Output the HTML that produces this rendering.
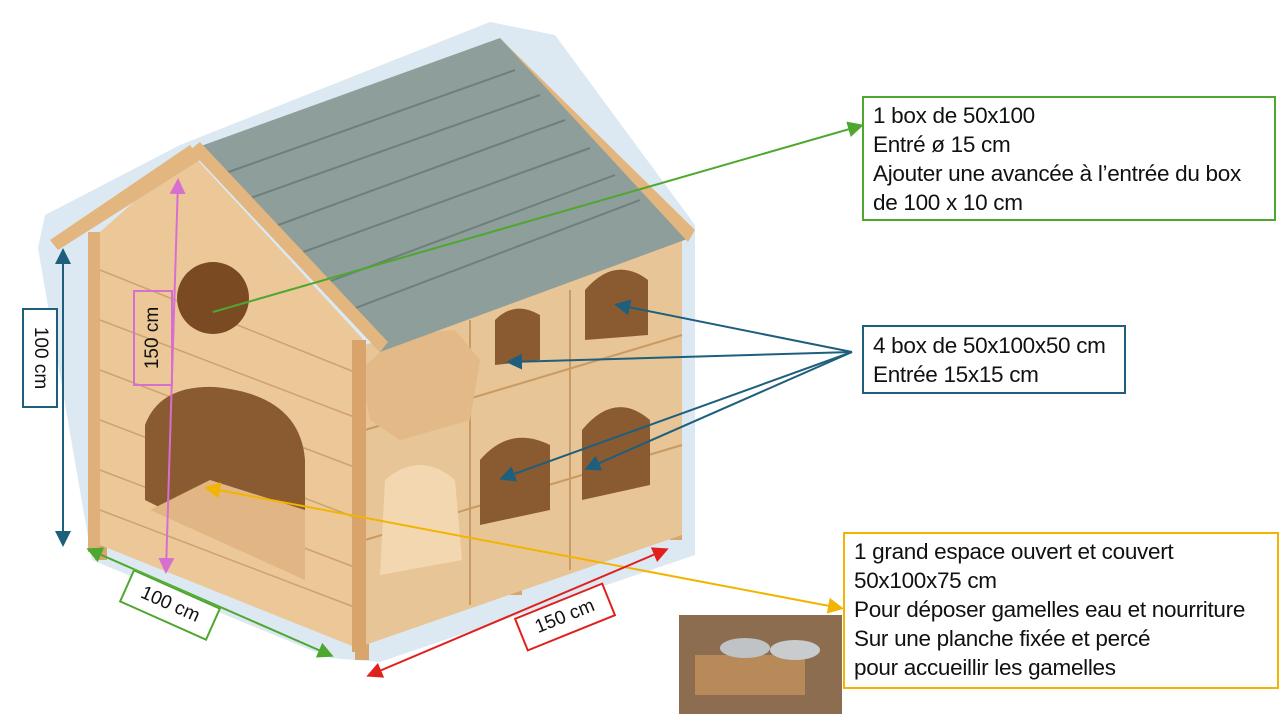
<!DOCTYPE html>
<html><head><meta charset="utf-8"><style>
body{margin:0;width:1280px;height:720px;background:#fff;position:relative;overflow:hidden;font-family:"Liberation Sans",sans-serif;}
.box{position:absolute;background:#fff;font-size:22.5px;line-height:29px;color:#111;padding:0 9px;box-sizing:border-box;white-space:nowrap;letter-spacing:-0.3px}
.lab{position:absolute;background:#fff;font-size:19px;color:#111;text-align:center;box-sizing:border-box;}
</style></head><body>
<svg width="1280" height="720" style="position:absolute;left:0;top:0">
<defs>
<marker id="ag" markerWidth="8" markerHeight="8" refX="6" refY="4" orient="auto-start-reverse"><path d="M0,0L8,4L0,8z" fill="#4ea72e"/></marker>
<marker id="ab" markerWidth="8" markerHeight="8" refX="6" refY="4" orient="auto-start-reverse"><path d="M0,0L8,4L0,8z" fill="#1e5f7d"/></marker>
<marker id="ay" markerWidth="8" markerHeight="8" refX="6" refY="4" orient="auto-start-reverse"><path d="M0,0L8,4L0,8z" fill="#f2b400"/></marker>
<marker id="ar" markerWidth="8" markerHeight="8" refX="6" refY="4" orient="auto-start-reverse"><path d="M0,0L8,4L0,8z" fill="#e0201c"/></marker>
<marker id="ap" markerWidth="8" markerHeight="8" refX="6" refY="4" orient="auto-start-reverse"><path d="M0,0L8,4L0,8z" fill="#d76fd0"/></marker>
</defs>
<polygon points="45,215 180,145 490,22 555,35 695,225 695,555 380,662 330,658 92,560 38,248" fill="#dce9f2"/>
<rect x="95" y="520" width="12" height="40" fill="#d8a56e"/>
<rect x="355" y="600" width="14" height="60" fill="#d8a56e"/>
<rect x="510" y="560" width="12" height="35" fill="#d8a56e"/>
<rect x="670" y="500" width="12" height="40" fill="#d8a56e"/>
<polygon points="365,345 682,238 682,535 365,645" fill="#e8c596"/>
<g stroke="#c99a64" stroke-width="2">
<line x1="365" y1="430" x2="682" y2="335"/><line x1="365" y1="540" x2="682" y2="445"/>
<line x1="470" y1="320" x2="470" y2="605"/><line x1="570" y1="290" x2="570" y2="570"/>
</g>
<path d="M495,365 L495,320 Q515,300 540,315 L540,360 Z" fill="#8a5a30"/>
<path d="M585,340 L585,290 Q615,255 648,280 L648,335 Z" fill="#8a5a30"/>
<path d="M480,525 L480,460 Q510,425 550,445 L550,510 Z" fill="#8a5a30"/>
<path d="M582,500 L582,430 Q615,390 650,420 L650,485 Z" fill="#8a5a30"/>
<path d="M380,575 L385,480 Q420,450 455,480 L462,560 Z" fill="#f3d7b0"/>
<polygon points="360,370 400,335 455,330 480,360 470,420 400,440 370,420" fill="#e2b987"/>
<polygon points="100,232 190,152 362,338 362,650 100,545" fill="#ecc899"/>
<g stroke="#cfa26b" stroke-width="1.5">
<line x1="100" y1="270" x2="362" y2="375"/><line x1="100" y1="320" x2="362" y2="420"/>
<line x1="100" y1="370" x2="362" y2="470"/><line x1="100" y1="420" x2="362" y2="520"/>
<line x1="100" y1="470" x2="362" y2="570"/><line x1="100" y1="510" x2="362" y2="610"/>
</g>
<rect x="88" y="232" width="12" height="320" fill="#e0b07a"/>
<rect x="352" y="340" width="14" height="312" fill="#d9a46c"/>
<circle cx="213" cy="298" r="36" fill="#7a4b22"/>
<path d="M145,500 L145,425 Q160,385 215,387 Q300,395 305,460 L305,580 Z" fill="#8a5a30"/>
<polygon points="150,510 210,480 305,510 305,580" fill="#e1b684"/>
<polygon points="190,150 500,38 690,238 380,352" fill="#8e9e9a"/>
<g stroke="#6f7f7b" stroke-width="2">
<line x1="220" y1="175" x2="515" y2="70"/><line x1="245" y1="200" x2="540" y2="95"/>
<line x1="270" y1="228" x2="565" y2="120"/><line x1="295" y1="255" x2="590" y2="148"/>
<line x1="320" y1="285" x2="615" y2="175"/><line x1="345" y1="312" x2="640" y2="200"/>
</g>
<polygon points="500,38 510,48 695,230 688,242" fill="#e3b680"/>
<polygon points="190,150 380,352 388,342 200,142" fill="#e3b680"/>
<polygon points="50,240 190,145 200,160 58,250" fill="#e3b680"/>
<rect x="679" y="615" width="163" height="99" fill="#8c6d4f"/>
<rect x="695" y="655" width="110" height="40" fill="#b88a5a"/>
<ellipse cx="745" cy="648" rx="25" ry="10" fill="#bfc3c6"/>
<ellipse cx="795" cy="650" rx="25" ry="10" fill="#c8ccce"/>
<line x1="213" y1="312" x2="860" y2="126" stroke="#4ea72e" stroke-width="2" marker-end="url(#ag)"/>
<g stroke="#1e5f7d" stroke-width="2">
<line x1="852" y1="352" x2="618" y2="305" marker-end="url(#ab)"/>
<line x1="852" y1="352" x2="510" y2="362" marker-end="url(#ab)"/>
<line x1="852" y1="352" x2="503" y2="478" marker-end="url(#ab)"/>
<line x1="852" y1="352" x2="588" y2="468" marker-end="url(#ab)"/>
<line x1="63" y1="252" x2="63" y2="543" marker-start="url(#ab)" marker-end="url(#ab)"/>
</g>
<line x1="840" y1="608" x2="208" y2="488" stroke="#f2b400" stroke-width="2" marker-start="url(#ay)" marker-end="url(#ay)"/>
<line x1="90" y1="550" x2="330" y2="655" stroke="#4ea72e" stroke-width="2" marker-start="url(#ag)" marker-end="url(#ag)"/>
<line x1="370" y1="675" x2="665" y2="550" stroke="#e0201c" stroke-width="2" marker-start="url(#ar)" marker-end="url(#ar)"/>
<line x1="178" y1="182" x2="166" y2="570" stroke="#d76fd0" stroke-width="2" marker-start="url(#ap)" marker-end="url(#ap)"/>
</svg>
<div class="box" style="left:862px;top:96px;width:414px;height:125px;border:2px solid #4ea72e;padding-top:3px">1 box de 50x100<br>Entré ø 15 cm<br>Ajouter une avancée à l’entrée du box<br>de 100 x 10 cm</div>
<div class="box" style="left:862px;top:325px;width:264px;height:69px;border:2px solid #1e5f7d;padding-top:4px">4 box de 50x100x50 cm<br>Entrée 15x15 cm</div>
<div class="box" style="left:843px;top:532px;width:436px;height:157px;border:2px solid #f2b400;padding-top:3px">1 grand espace ouvert et couvert<br>50x100x75 cm<br>Pour déposer gamelles eau et nourriture<br>Sur une planche fixée et percé<br>pour accueillir les gamelles</div>
<div class="lab" style="left:-10px;top:340px;width:100px;height:36px;line-height:32px;border:2px solid #1e5f7d;transform:rotate(90deg)">100 cm</div>
<div class="lab" style="left:105px;top:318px;width:96px;height:40px;line-height:36px;border:2px solid #d76fd0;transform:rotate(-90deg);background:transparent">150 cm</div>
<div class="lab" style="left:122px;top:587px;width:96px;height:36px;line-height:32px;border:2px solid #4ea72e;transform:rotate(24deg)">100 cm</div>
<div class="lab" style="left:517px;top:599px;width:96px;height:36px;line-height:32px;border:2px solid #e0201c;transform:rotate(-22deg)">150 cm</div>
</body></html>
